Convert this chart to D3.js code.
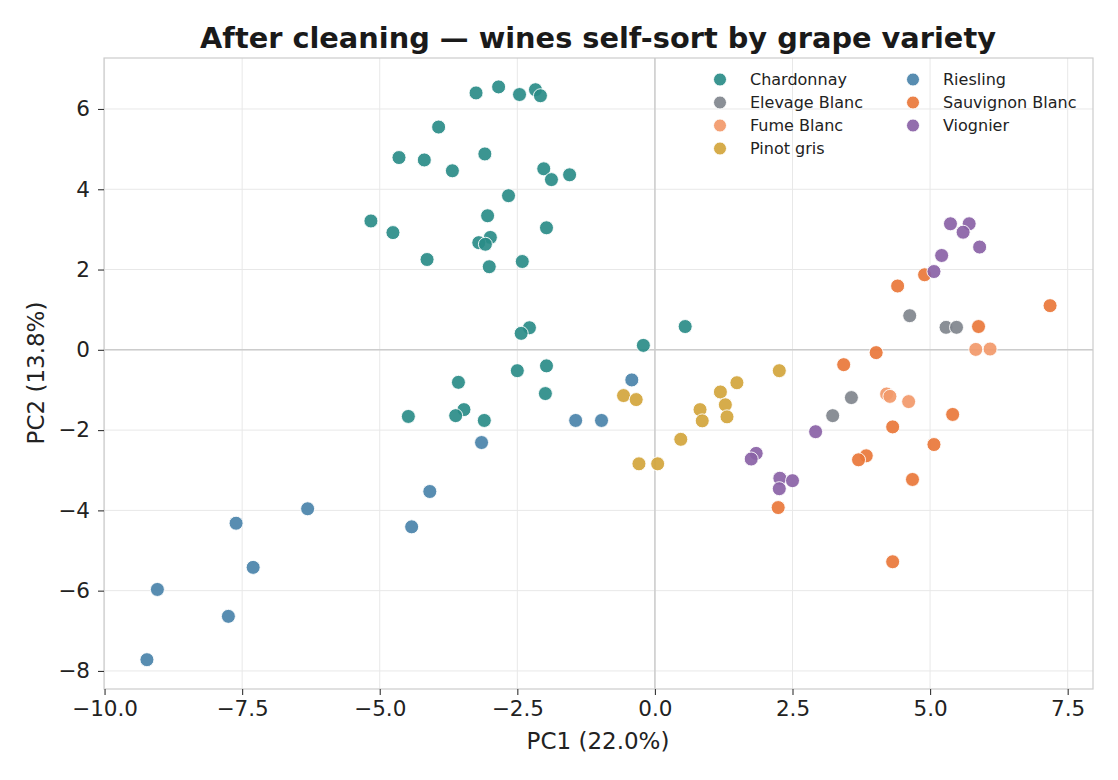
<!DOCTYPE html>
<html><head><meta charset="utf-8">
<script src="https://cdn.jsdelivr.net/npm/d3@7"></script>
<style>body{margin:0;background:#fff;} svg{display:block;font-family:"DejaVu Sans",sans-serif;}</style>
</head><body>
<svg id="c" width="1118" height="780"></svg>
<script>
const varieties = ["Chardonnay","Elevage Blanc","Fume Blanc","Pinot gris","Riesling","Sauvignon Blanc","Viognier"];
const colors = ["#2a8c88","#80868d","#f2996a","#d3a53c","#4a83aa","#e9773a","#8a62a6"];
const xTicks = [-10,-7.5,-5,-2.5,0,2.5,5,7.5];
const yTicks = [-8,-6,-4,-2,0,2,4,6];

const chardonnayX = [-3.25,-2.84,-2.46,-2.17,-2.08,-3.93,-4.65,-4.19,-3.68,-3.09,-2.02,-1.88,-1.55,-2.66,-3.04,-5.16,-4.76,-1.97,-2.99,-3.20,-3.08,-4.14,-2.41,-3.01,-2.28,-2.43,0.55,-0.21,-2.50,-1.97,-3.57,-1.99,-4.48,-3.47,-3.62,-3.10];
const chardonnayY = [6.40,6.55,6.36,6.48,6.33,5.55,4.79,4.73,4.46,4.88,4.51,4.24,4.36,3.84,3.34,3.21,2.92,3.04,2.80,2.67,2.63,2.25,2.20,2.07,0.55,0.41,0.58,0.11,-0.52,-0.40,-0.81,-1.09,-1.66,-1.49,-1.64,-1.76];
const elevageX = [4.63,5.29,5.48,3.57,3.23];
const elevageY = [0.85,0.56,0.56,-1.19,-1.64];
const fumeX = [4.21,4.27,4.61,5.83,6.09];
const fumeY = [-1.10,-1.16,-1.29,0.01,0.02];
const pinotX = [-0.57,-0.34,2.26,1.49,1.19,1.28,1.31,0.82,0.86,0.47,-0.29,0.05];
const pinotY = [-1.14,-1.24,-0.52,-0.82,-1.05,-1.37,-1.67,-1.49,-1.77,-2.23,-2.84,-2.84];
const rieslingX = [-0.42,-1.44,-0.97,-3.15,-4.09,-4.42,-6.31,-7.61,-7.30,-9.04,-7.75,-9.23];
const rieslingY = [-0.75,-1.76,-1.76,-2.31,-3.53,-4.41,-3.96,-4.32,-5.42,-5.97,-6.64,-7.72];
const sauvX = [4.90,4.41,7.18,5.88,4.02,3.43,5.41,4.32,5.07,3.84,3.70,4.68,2.24,4.32];
const sauvY = [1.87,1.59,1.10,0.58,-0.07,-0.37,-1.61,-1.92,-2.36,-2.64,-2.74,-3.23,-3.93,-5.28];
const viognierX = [5.37,5.71,5.60,5.90,5.21,5.07,2.92,1.84,1.75,2.27,2.50,2.26];
const viognierY = [3.14,3.14,2.93,2.56,2.35,1.95,-2.04,-2.58,-2.72,-3.20,-3.26,-3.46];

const seriesX = [chardonnayX,elevageX,fumeX,pinotX,rieslingX,sauvX,viognierX];
const seriesY = [chardonnayY,elevageY,fumeY,pinotY,rieslingY,sauvY,viognierY];
const points = [];
varieties.forEach((v,i)=>seriesX[i].forEach((x,j)=>points.push({v,i,x,y:seriesY[i][j]})));

const svg = d3.select("#c");
const L=104,R=1093,T=58,B=689;
const x = d3.scaleLinear().domain([-10.01,7.96]).range([L,R]);
const y = d3.scaleLinear().domain([-8.45,7.27]).range([B,T]);
const fmtX = d => d3.format(".1f")(d).replace("-","\u2212");
const fmtY = d => String(d).replace("-","\u2212");

// grid
const g = svg.append("g");
g.selectAll(".gx").data(xTicks).join("line").attr("x1",d=>x(d)).attr("x2",d=>x(d)).attr("y1",T).attr("y2",B).attr("stroke","#e8e8e8").attr("stroke-width",1);
g.selectAll(".gy").data(yTicks).join("line").attr("y1",d=>y(d)).attr("y2",d=>y(d)).attr("x1",L).attr("x2",R).attr("stroke","#e8e8e8").attr("stroke-width",1);
// zero lines
g.append("line").attr("x1",x(0)).attr("x2",x(0)).attr("y1",T).attr("y2",B).attr("stroke","#cccccc").attr("stroke-width",1.5);
g.append("line").attr("y1",y(0)).attr("y2",y(0)).attr("x1",L).attr("x2",R).attr("stroke","#cccccc").attr("stroke-width",1.5);

// frame
svg.append("rect").attr("x",L).attr("y",T).attr("width",R-L).attr("height",B-T).attr("fill","none").attr("stroke","#cccccc").attr("stroke-width",1.2);

// axes
const ax = svg.append("g").attr("transform",`translate(0,${B})`).call(d3.axisBottom(x).tickValues(xTicks).tickFormat(fmtX).tickSize(6).tickPadding(6));
const ay = svg.append("g").attr("transform",`translate(${L},0)`).call(d3.axisLeft(y).tickValues(yTicks).tickFormat(fmtY).tickSize(6).tickPadding(8));
[ax,ay].forEach(a=>{a.select(".domain").remove();a.selectAll("line").attr("stroke","#333").attr("stroke-width",1.1);a.selectAll("text").attr("font-size",21.5).attr("fill","#222").attr("font-family","DejaVu Sans");});

// points
svg.append("g").selectAll("circle").data(points).join("circle")
  .attr("cx",d=>x(d.x)).attr("cy",d=>y(d.y)).attr("r",7)
  .attr("fill",d=>colors[d.i]).attr("fill-opacity",0.92)
  .attr("stroke","#fff").attr("stroke-width",0.9);

// title & labels
svg.append("text").attr("x",598).attr("y",48).attr("text-anchor","middle").attr("font-size",28.8).attr("font-weight","bold").attr("fill","#1a1a1a").text("After cleaning — wines self-sort by grape variety");
svg.append("text").attr("x",598).attr("y",749).attr("text-anchor","middle").attr("font-size",23).attr("fill","#222").text("PC1 (22.0%)");
svg.append("text").attr("transform","translate(44,373) rotate(-90)").attr("text-anchor","middle").attr("font-size",23).attr("fill","#222").text("PC2 (13.8%)");

// legend
const lg = svg.append("g");
varieties.forEach((v,i)=>{
  const col = i<4?0:1, row = i<4?i:i-4;
  const lx = col===0?720:913, ly = 79.5+row*23;
  lg.append("circle").attr("cx",lx).attr("cy",ly).attr("r",6.5).attr("fill",colors[i]).attr("fill-opacity",0.92).attr("stroke","#fff").attr("stroke-width",0.9);
  lg.append("text").attr("x",lx+30).attr("y",ly+5.5).attr("font-size",16).attr("fill","#222").text(v);
});
</script>
</body></html>
